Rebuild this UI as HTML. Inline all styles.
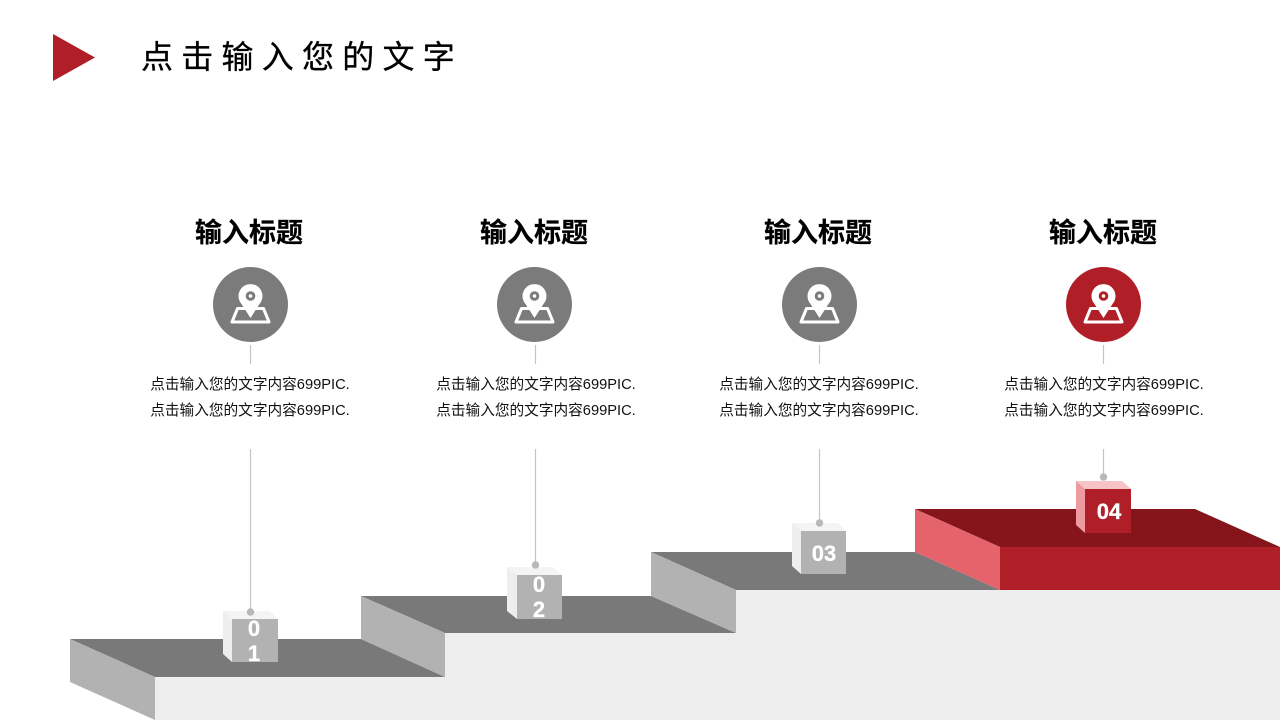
<!DOCTYPE html>
<html><head><meta charset="utf-8">
<style>
html,body{margin:0;padding:0;background:#fff}
#s{position:relative;width:1280px;height:720px;overflow:hidden;background:#fff;font-family:"Liberation Sans","Noto Sans CJK SC",sans-serif}
svg{position:absolute;left:0;top:0}
.t{position:absolute;white-space:nowrap;text-align:center}
.h{font-size:27px;font-weight:700;line-height:36px;width:200px;top:215px;color:#000;-webkit-text-stroke:0.2px #000}
.d{font-size:14.67px;line-height:26px;width:240px;top:372px;color:#111}
.n{font-family:"Liberation Sans",sans-serif;font-weight:700;font-size:22px;line-height:25px;color:#fff;width:46px;white-space:normal;word-break:break-all;-webkit-text-stroke:0.3px #fff}
</style></head><body><div id="s">
<svg width="1280" height="720" viewBox="0 0 1280 720">
<defs>
<g id="pin">
<path d="M-13 6.500 H13 L18.500 20 H-18.500 Z" fill="none" stroke="#fff" stroke-width="3" stroke-linejoin="round"/>
<path d="M0 16 L-9 2 A12 12 0 1 1 9 2 Z" fill="#fff"/>
</g>
</defs>
<polygon points="53,34 95,57.500 53,81" fill="#b01e27"/>

<polygon points="155,677 445,677 445,633 736,633 736,590 1280,590 1280,720 155,720" fill="#eeeeee"/>

<polygon points="70,639 361,639 445,677 155,677" fill="#797979"/>
<polygon points="70,639 155,677 155,720 70,682" fill="#b2b2b2"/>
<polygon points="361,596 651,596 736,633 445,633" fill="#797979"/>
<polygon points="361,596 445,633 445,677 361,639" fill="#b2b2b2"/>
<polygon points="651,552 915,552 1000,590 736,590" fill="#797979"/>
<polygon points="651,552 736,590 736,633 651,596" fill="#b2b2b2"/>
<polygon points="915,509 1195,509 1280,547 1000,547" fill="#85151b"/>
<polygon points="915,509 1000,547 1000,590 915,552" fill="#e5636b"/>
<polygon points="1000,547 1280,547 1280,590 1000,590" fill="#b01e27"/>

<g stroke="#c4c4c4" stroke-width="1.200">
<line x1="250.500" y1="345" x2="250.500" y2="364"/>
<line x1="535.500" y1="345" x2="535.500" y2="364"/>
<line x1="819.500" y1="345" x2="819.500" y2="364"/>
<line x1="1103.500" y1="345" x2="1103.500" y2="364"/>
<line x1="250.500" y1="449" x2="250.500" y2="612"/>
<line x1="535.500" y1="449" x2="535.500" y2="565"/>
<line x1="819.500" y1="449" x2="819.500" y2="523"/>
<line x1="1103.500" y1="449" x2="1103.500" y2="477"/>
</g>

<polygon points="223,611 269,611 278,619 232,619" fill="#f4f4f4"/>
<polygon points="223,611 232,619 232,662 223,654" fill="#eeeeee"/>
<rect x="232" y="619" width="46" height="43" fill="#b2b2b2"/>
<circle cx="250.500" cy="612" r="3.700" fill="#b8b8b8"/>

<polygon points="507,567 553,567 562,575 517,575" fill="#f4f4f4"/>
<polygon points="507,567 517,575 517,619 507,611" fill="#eeeeee"/>
<rect x="517" y="575" width="45" height="44" fill="#b2b2b2"/>
<circle cx="535.500" cy="565" r="3.700" fill="#b8b8b8"/>

<polygon points="792,523 838,523 846,531 801,531" fill="#f4f4f4"/>
<polygon points="792,523 801,531 801,574 792,566" fill="#eeeeee"/>
<rect x="801" y="531" width="45" height="43" fill="#b2b2b2"/>
<circle cx="819.500" cy="523" r="3.700" fill="#b8b8b8"/>

<polygon points="1076,481 1122,481 1131,489 1085,489" fill="#f6c3c7"/>
<polygon points="1076,481 1085,489 1085,533 1076,525" fill="#ee9aa1"/>
<rect x="1085" y="489" width="46" height="44" fill="#b01e27"/>
<circle cx="1103.500" cy="477" r="3.700" fill="#b8b8b8"/>

<circle cx="250.500" cy="304.500" r="37.500" fill="#7b7b7b"/>
<circle cx="534.500" cy="304.500" r="37.500" fill="#7b7b7b"/>
<circle cx="819.500" cy="304.500" r="37.500" fill="#7b7b7b"/>
<circle cx="1103.500" cy="304.500" r="37.500" fill="#b01e27"/>

<g transform="translate(250.500,302)"><use href="#pin"/><circle cy="-6" r="4.800" fill="#7b7b7b"/><circle cy="-6" r="1.800" fill="#fff"/></g>
<g transform="translate(534.500,302)"><use href="#pin"/><circle cy="-6" r="4.800" fill="#7b7b7b"/><circle cy="-6" r="1.800" fill="#fff"/></g>
<g transform="translate(819.500,302)"><use href="#pin"/><circle cy="-6" r="4.800" fill="#7b7b7b"/><circle cy="-6" r="1.800" fill="#fff"/></g>
<g transform="translate(1103.500,302)"><use href="#pin"/><circle cy="-6" r="4.800" fill="#b01e27"/><circle cy="-6" r="1.800" fill="#fff"/></g>
</svg>

<div class="t" style="left:141px;top:35px;font-size:32px;line-height:44px;letter-spacing:8.250px;color:#000;text-align:left;-webkit-text-stroke:0.3px #000">点击输入您的文字</div>

<div class="t h" style="left:149px">输入标题</div>
<div class="t h" style="left:434px">输入标题</div>
<div class="t h" style="left:718px">输入标题</div>
<div class="t h" style="left:1003px">输入标题</div>

<div class="t d" style="left:130px">点击输入您的文字内容699PIC.<br>点击输入您的文字内容699PIC.</div>
<div class="t d" style="left:416px">点击输入您的文字内容699PIC.<br>点击输入您的文字内容699PIC.</div>
<div class="t d" style="left:699px">点击输入您的文字内容699PIC.<br>点击输入您的文字内容699PIC.</div>
<div class="t d" style="left:984px">点击输入您的文字内容699PIC.<br>点击输入您的文字内容699PIC.</div>

<div class="t n" style="left:231px;top:616px">0<br>1</div>
<div class="t n" style="left:516px;top:572px">0<br>2</div>
<div class="t n" style="left:801px;top:541px">03</div>
<div class="t n" style="left:1086px;top:499px">04</div>
</div></body></html>
